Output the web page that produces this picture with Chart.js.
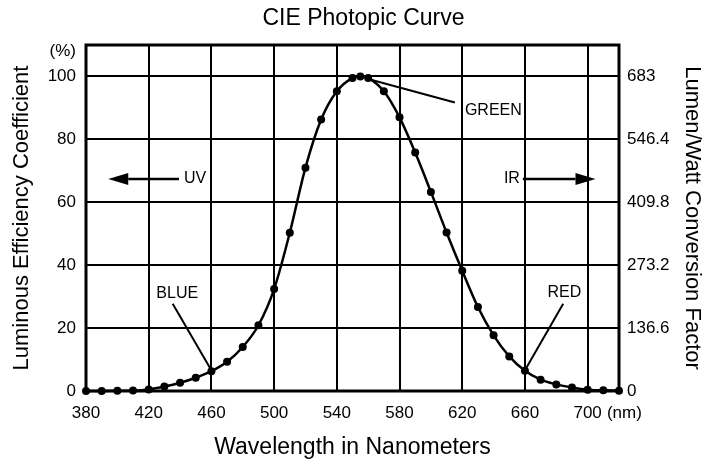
<!DOCTYPE html>
<html>
<head>
<meta charset="utf-8">
<title>CIE Photopic Curve</title>
<script src="https://cdn.jsdelivr.net/npm/chart.js@4.4.1/dist/chart.umd.min.js"></script>
<style>
  html, body { margin: 0; padding: 0; background: #fff; }
  canvas { display: block; }
</style>
</head>
<body>
<canvas id="cieChart" width="707" height="463"></canvas>
<script>
// wavelength (nm) and luminous efficiency (%)
const wavelengths = [380, 390, 400, 410, 420, 430, 440, 450, 460, 470, 480, 490, 500, 510, 520, 530, 540, 550,
  555, 560, 570, 580, 590, 600, 610, 620, 630, 640, 650, 660, 670, 680, 690, 700, 710, 720];
const efficiency = [0.0, 0.01, 0.04, 0.12, 0.5, 1.4, 2.6, 4.2, 6.3, 9.3, 14.0, 20.9, 32.4, 50.3, 71.0, 86.3, 95.3, 99.5,
  100, 99.5, 95.3, 87.0, 75.8, 63.3, 50.4, 38.2, 26.7, 17.7, 11.0, 6.4, 3.6, 2.1, 1.1, 0.4, 0.2, 0.1];

const xTicks = [380, 420, 460, 500, 540, 580, 620, 660, 700];
const leftTicks = [0, 20, 40, 60, 80, 100];
const rightTicks = [0, 136.6, 273.2, 409.8, 546.4, 683];
const LUMEN_FACTOR = 6.83; // 100 % == 683 lm/W

// callouts, in data units
const pointers = [
  { text: 'GREEN', from: [560, 99.2], to: [615.3, 91.7], at: [621.7, 89.3], align: 'left' },
  { text: 'BLUE', from: [459.5, 7.0], to: [435.3, 27.7], at: [438.2, 31.0], align: 'center' },
  { text: 'RED', from: [660, 6.6], to: [684.4, 27.7], at: [685.1, 31.4], align: 'center' },
];
const arrows = [
  { text: 'UV', tail: 439.3, tip: 394.2, level: 67.4, textAt: 442.5, align: 'left' },
  { text: 'IR', tail: 658.7, tip: 705, level: 67.4, textAt: 656.8, align: 'right' },
];

// the picture uses a narrow sans, use it when it is there
function hasFont(name) {
  const c = document.createElement('canvas').getContext('2d');
  c.font = '40px monospace';
  const a = c.measureText('Wavelength 0123').width;
  c.font = '40px "' + name + '", monospace';
  return c.measureText('Wavelength 0123').width !== a;
}
const NARROW = hasFont('Liberation Sans Narrow');
const HFONT = NARROW ? '"Liberation Sans Narrow", "Arial Narrow", sans-serif' : '"Liberation Sans", Arial, sans-serif';
const K = NARROW ? 1 / 0.82 : 1;
const TITLE_SIZE = 23 * K;
const TICK_SIZE = 17 * K;
const NOTE_SIZE = 16 * K;
const VFONT = '"Liberation Sans", Arial, sans-serif';
const VSIZE = 22;

const titleBlock = {
  id: 'titleBlock',
  afterDraw(chart) {
    const { ctx, chartArea: a } = chart;
    ctx.save();
    ctx.fillStyle = '#000';
    ctx.font = TITLE_SIZE + 'px ' + HFONT;
    ctx.textAlign = 'center';
    ctx.textBaseline = 'middle';
    ctx.fillText('CIE Photopic Curve', (a.left + a.right) / 2 + 11, 19);
    ctx.restore();
  },
};

const notes = {
  id: 'notes',
  beforeDatasetsDraw(chart) {
    const { ctx, chartArea: a } = chart;
    ctx.save();
    ctx.strokeStyle = '#000';
    ctx.lineWidth = 3;
    ctx.strokeRect(a.left, a.top, a.right - a.left, a.bottom - a.top);
    ctx.restore();
  },
  afterDatasetsDraw(chart) {
    const { ctx, scales: { x, y } } = chart;
    const px = (v) => x.getPixelForValue(v);
    const py = (v) => y.getPixelForValue(v);
    ctx.save();
    ctx.fillStyle = '#000';
    ctx.strokeStyle = '#000';
    ctx.textBaseline = 'middle';
    ctx.font = NOTE_SIZE + 'px ' + HFONT;

    ctx.lineWidth = 2;
    pointers.forEach((p) => {
      ctx.beginPath();
      ctx.moveTo(px(p.from[0]), py(p.from[1]));
      ctx.lineTo(px(p.to[0]), py(p.to[1]));
      ctx.stroke();
      ctx.textAlign = p.align;
      ctx.fillText(p.text, px(p.at[0]), py(p.at[1]));
    });

    arrows.forEach((ar) => {
      const yy = py(ar.level);
      const tip = px(ar.tip);
      const dir = Math.sign(tip - px(ar.tail));
      const base = tip - dir * 20;
      ctx.lineWidth = 2.5;
      ctx.beginPath();
      ctx.moveTo(px(ar.tail), yy);
      ctx.lineTo(base, yy);
      ctx.stroke();
      ctx.beginPath();
      ctx.moveTo(tip, yy);
      ctx.lineTo(base, yy - 6);
      ctx.lineTo(base, yy + 6);
      ctx.closePath();
      ctx.fill();
      ctx.textAlign = ar.align;
      ctx.fillText(ar.text, px(ar.textAt), yy);
    });

    // unit labels beside the tick labels
    ctx.font = TICK_SIZE + 'px ' + HFONT;
    ctx.textAlign = 'right';
    ctx.fillText('(%)', chart.chartArea.left - 10, py(108));
    const w = ctx.measureText('700').width;
    ctx.textAlign = 'left';
    const ty = x.top + 12 + TICK_SIZE * 0.6;
    ctx.fillText('(nm)', px(700) + w / 2 + TICK_SIZE * 0.3, ty);
    ctx.restore();
  },
};

const tickFont = { family: HFONT, size: TICK_SIZE };

new Chart(document.getElementById('cieChart'), {
  type: 'line',
  data: {
    datasets: [{
      data: wavelengths.map((w, i) => ({ x: w, y: efficiency[i] })),
      borderColor: '#000',
      backgroundColor: '#000',
      borderWidth: 2.5,
      pointRadius: 4,
      pointBorderWidth: 0,
      cubicInterpolationMode: 'monotone',
      fill: false,
      clip: false,
    }],
  },
  options: {
    responsive: false,
    animation: false,
    events: [],
    layout: { padding: { top: 45 } },
    plugins: {
      legend: { display: false },
      tooltip: { enabled: false },
      title: { display: false },
    },
    scales: {
      x: {
        type: 'linear',
        min: 380,
        max: 720,
        afterBuildTicks: (s) => { s.ticks = xTicks.map((v) => ({ value: v })); },
        afterFit: (s) => { s.height = 72; },
        grid: { color: '#000', lineWidth: 2, drawTicks: false },
        border: { display: false },
        ticks: { color: '#000', font: tickFont, padding: 12, maxRotation: 0, autoSkip: false },
        title: {
          display: true,
          text: 'Wavelength in Nanometers',
          color: '#000',
          font: { family: HFONT, size: TITLE_SIZE },
          padding: { top: 0, bottom: Math.max(0, 15 - 0.6 * TITLE_SIZE) },
        },
      },
      y: {
        position: 'left',
        min: 0,
        max: 110,
        afterBuildTicks: (s) => { s.ticks = leftTicks.map((v) => ({ value: v })); },
        afterFit: (s) => { s.width = 86; },
        grid: { color: '#000', lineWidth: 2, drawTicks: false },
        border: { display: false },
        ticks: { color: '#000', font: tickFont, padding: 10 },
        title: {
          display: true,
          text: 'Luminous Efficiency Coefficient',
          color: '#000',
          font: { family: VFONT, size: VSIZE },
          padding: { top: 22 - 0.6 * VSIZE, bottom: 0 },
        },
      },
      y2: {
        position: 'right',
        min: 0,
        max: 110 * LUMEN_FACTOR,
        afterBuildTicks: (s) => { s.ticks = rightTicks.map((v) => ({ value: v })); },
        afterFit: (s) => { s.width = 88; },
        grid: { drawOnChartArea: false, drawTicks: false },
        border: { display: false },
        ticks: { color: '#000', font: tickFont, padding: 8, callback: (v) => String(v) },
        title: {
          display: true,
          text: 'Lumen/Watt Conversion Factor',
          color: '#000',
          font: { family: VFONT, size: VSIZE },
          padding: { top: 15 - 0.6 * VSIZE, bottom: 0 },
        },
      },
    },
  },
  plugins: [notes, titleBlock],
});
</script>
</body>
</html>
